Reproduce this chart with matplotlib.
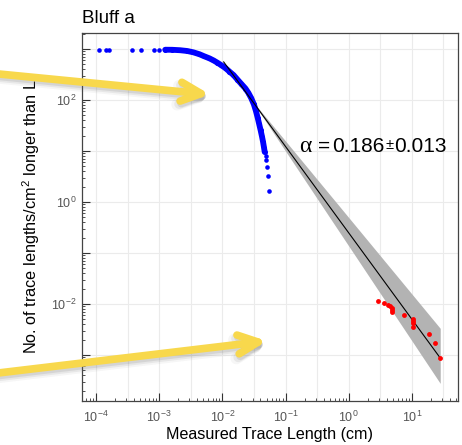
import numpy as np
import matplotlib
matplotlib.use("Agg")
import matplotlib.pyplot as plt
from matplotlib.patches import FancyArrowPatch
from matplotlib.ticker import LogLocator, FuncFormatter, NullFormatter

plt.rcParams['font.family'] = ['Liberation Sans', 'DejaVu Sans']
plt.rcParams['mathtext.fontset'] = 'custom'
plt.rcParams['mathtext.rm'] = 'Liberation Sans'
plt.rcParams['mathtext.it'] = 'Liberation Sans:italic'
plt.rcParams['mathtext.bf'] = 'Liberation Sans:bold'

# ---- scanline traces (cm, number per cm^2 longer than L) ----
early_len = [1.12e-4, 1.44e-4, 1.61e-4, 3.69e-4, 5.13e-4, 8.34e-4, 1.00e-3]
early_den = [977, 977, 976, 976, 975, 975, 974]

curve_len = [1.245e-3, 1.61e-3, 2.15e-3, 2.78e-3, 3.47e-3, 4.32e-3, 5.18e-3,
             6.22e-3, 7.20e-3, 8.34e-3, 9.64e-3, 1.116e-2, 1.29e-2, 1.50e-2,
             1.73e-2, 2.00e-2, 2.32e-2, 2.59e-2, 2.88e-2, 3.16e-2, 3.40e-2,
             3.63e-2, 3.84e-2, 4.04e-2, 4.24e-2, 4.41e-2, 4.56e-2, 4.68e-2]
curve_den = [968, 965, 946, 914, 861, 791, 719, 657, 600, 539, 479, 424, 362,
             309, 252, 206, 168, 137, 107, 81.6, 60.8, 44.4, 33.1, 25.3, 19.2,
             15.0, 11.7, 9.55]

tail_len = [4.82e-2, 4.94e-2, 5.05e-2, 5.24e-2, 5.43e-2]
tail_den = [8.15, 6.52, 4.89, 3.26, 1.63]

# ---- outcrop-scale traces ----
outcrop_len = [2.88, 3.60, 4.21, 4.53, 4.76, 4.76, 4.82, 7.46, 10.26, 10.47,
               10.47, 10.38, 18.4, 22.9, 28.1]
outcrop_den = [0.0113, 0.01047, 0.00968, 0.00912, 0.00836, 0.00752, 0.00697,
               0.00608, 0.00515, 0.00458, 0.0043, 0.00349, 0.00262, 0.00174,
               0.00087]

# ---- power-law fit and its uncertainty fan ----
fit_coef = 0.248
fit_slope = -1.694
fit_range = (0.0105, 28.1)
band_start = 0.0282
slope_hi = -1.50
slope_lo = -1.86

alpha_value = "0.186"
alpha_error = "0.013"

W, H = 462, 445
fig = plt.figure(figsize=(W / 100, H / 100), dpi=100)
ax = fig.add_axes([82 / W, 1 - 401 / H, 376 / W, 368 / H])
ax.set_xscale('log')
ax.set_yscale('log')
ax.set_xlim(6.0e-5, 53.7)
ax.set_ylim(1.25e-4, 2060)

# light grid: half decades along x, decades along y
for v in 10.0 ** np.arange(-4, 1.51, 0.5):
    ax.axvline(v, color='#ebebeb', lw=0.8, zorder=0)
for v in 10.0 ** np.arange(-3, 4):
    ax.axhline(v, color='#ebebeb', lw=0.8, zorder=0)

# fit uncertainty fan
bx = np.logspace(np.log10(band_start), np.log10(fit_range[1]), 100)
y_piv = fit_coef * band_start ** fit_slope
ax.fill_between(bx, y_piv * (bx / band_start) ** slope_lo,
                y_piv * (bx / band_start) ** slope_hi,
                color='#b3b3b3', lw=0, zorder=1)

# scanline data
ax.plot(early_len, early_den, 'o', color='#0000ff', ms=3.3, mew=0, zorder=2)
ax.plot(curve_len, curve_den, '-o', color='#0000ff', lw=4.2, ms=3.6, mew=0,
        solid_capstyle='round', zorder=2)
ax.plot(tail_len, tail_den, 'o', color='#0000ff', ms=3.3, mew=0, zorder=2)

# fitted line
fx = np.array(fit_range)
ax.plot(fx, fit_coef * fx ** fit_slope, color='black', lw=0.8, zorder=3)

# outcrop data
ax.plot(outcrop_len, outcrop_den, 'o', color='#ff0000', ms=3.5, mew=0, zorder=4)

# ticks
def sci(v, pos, every=1):
    e = int(round(np.log10(v)))
    if e % every:
        return ''
    return r'$10^{%d}$' % e

for axis, every in ((ax.xaxis, 1), (ax.yaxis, 2)):
    axis.set_major_locator(LogLocator(base=10, numticks=30))
    axis.set_minor_locator(LogLocator(base=10, subs=np.arange(2, 10), numticks=30))
    axis.set_minor_formatter(NullFormatter())
    axis.set_major_formatter(FuncFormatter(lambda v, p, ev=every: sci(v, p, ev)))

ax.tick_params(which='both', direction='in', top=False, right=False,
               color='#333333', labelcolor='#555555', labelsize=9)
ax.tick_params(which='major', length=5.5, width=0.8, pad=4)
ax.tick_params(axis='x', which='major', pad=6)
ax.tick_params(which='minor', length=2.4, width=0.6)
for s in ax.spines.values():
    s.set_color('#444444')
    s.set_linewidth(0.9)

ax.set_xlabel('Measured Trace Length (cm)', fontsize=11.6, labelpad=2)
ax.set_ylabel('No. of trace lengths/cm$^2$ longer than L', fontsize=11.7)
ax.yaxis.set_label_coords(-0.106, 0.5)
ax.set_title('Bluff a', loc='left', fontsize=13.5, pad=7.4)

# slope annotation, pieces placed in figure pixels (measured from top-left)
def ftext(x, y, s, **kw):
    return fig.text(x / W, 1 - y / H, s, ha='left', va='baseline', **kw)

base = 151.7
ftext(299, base, '\u03b1', fontsize=17, family=['Liberation Serif', 'DejaVu Serif'])
ftext(318, base, '=', fontsize=15)
ftext(332.5, base, alpha_value, fontsize=15)
ftext(386, base - 3, '\u00b1', fontsize=10.5)
ftext(394.5, base, alpha_error, fontsize=15)

# highlighted call-out arrows
def callout(x0, y0, x1, y1):
    pa = (x0 / W, 1 - y0 / H)
    pb = (x1 / W, 1 - y1 / H)
    style = '->,head_length=1.45,head_width=0.68'
    for dx, dy, lw, a in ((2.0, 4.0, 8.5, 0.06), (1.5, 3.2, 7.0, 0.10), (1.0, 2.5, 5.5, 0.14)):
        sa = (pa[0] + dx / W, pa[1] - dy / H)
        sb = (pb[0] + dx / W, pb[1] - dy / H)
        sh = FancyArrowPatch(sa, sb, arrowstyle=style, mutation_scale=10,
                             lw=lw, color='#666666', alpha=a,
                             capstyle='round', joinstyle='round',
                             transform=fig.transFigure, shrinkA=0, shrinkB=0)
        fig.add_artist(sh)
    ar = FancyArrowPatch(pa, pb, arrowstyle=style, mutation_scale=10,
                         lw=5.5, color='#f8d84c', capstyle='round',
                         joinstyle='round', transform=fig.transFigure,
                         shrinkA=0, shrinkB=0)
    fig.add_artist(ar)

callout(-6, 73.5, 210, 94.5)
callout(-6, 373.5, 267, 341)

fig.savefig('out.png', dpi=100)
